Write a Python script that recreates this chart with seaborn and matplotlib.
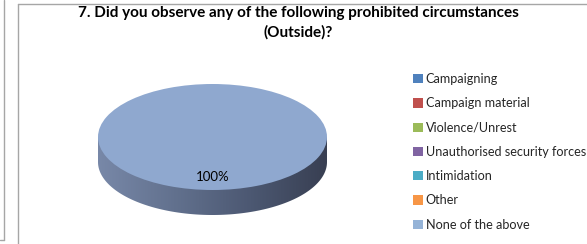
import numpy as np
import matplotlib
matplotlib.use("Agg")
import matplotlib.pyplot as plt
from matplotlib.lines import Line2D
from matplotlib.patches import Polygon
from matplotlib.colors import LinearSegmentedColormap
import seaborn as sns

categories = ["Campaigning", "Campaign material", "Violence/Unrest",
              "Unauthorised security forces", "Intimidation", "Other",
              "None of the above"]
values = [0, 0, 0, 0, 0, 0, 100]
colors = ["#4F81BD", "#C0504D", "#9BBB59", "#8064A2", "#4BACC6", "#F79646", "#95B3D7"]
title = "7. Did you observe any of the following prohibited circumstances\n(Outside)?"

sns.set_theme(style="white")
plt.rcParams['font.family'] = ['Lato', 'DejaVu Sans']

W, H = 587, 244
fig = plt.figure(figsize=(W / 100, H / 100), dpi=100)
fig.patch.set_facecolor("white")

def fx(px):
    return px / W

def fy(py):
    return 1 - py / H

# frame lines
fig.add_artist(Line2D([fx(3.5), fx(3.5)], [fy(0), fy(240)], color="#A6A6A6", lw=1))
fig.add_artist(Line2D([fx(0), fx(3.5)], [fy(240), fy(240)], color="#A6A6A6", lw=1))
fig.add_artist(Line2D([fx(17.5), fx(17.5)], [fy(3.5), fy(244)], color="#A6A6A6", lw=1))
fig.add_artist(Line2D([fx(17.5), fx(587)], [fy(3.5), fy(3.5)], color="#A6A6A6", lw=1))

# pie axes geometry (pixels)
cx, cy = 212.5, 137.0
sx, sy = 114.5, 53.0
xl = (-1.2, 1.2)
yl = (-1.8, 1.2)
left = cx + xl[0] * sx
width = (xl[1] - xl[0]) * sx
top = cy - yl[1] * sy
height = (yl[1] - yl[0]) * sy
ax = fig.add_axes([fx(left), fy(top + height), width / W, height / H])

depth = 25.0 / sy

palette = sns.color_palette(colors)

def pct(p):
    return f"{p:.0f}%" if p > 0.5 else ""

wedges, texts, autotexts = ax.pie(values, colors=palette, startangle=90,
                                  counterclock=False, autopct=pct,
                                  pctdistance=0.755,
                                  wedgeprops=dict(linewidth=0),
                                  textprops=dict(fontsize=9.5, color="black"))
for w in wedges:
    w.set_zorder(3)
for t in autotexts:
    t.set_zorder(5)

# side of 3D pie with horizontal gradient
t = np.linspace(np.pi, 2 * np.pi, 200)
pts = [(-1, 0), (-1, -depth)] + [(np.cos(a), np.sin(a) - depth) for a in t] + [(1, -depth), (1, 0)]
side = Polygon(pts, closed=True, facecolor="none", edgecolor="none")
ax.add_patch(side)
grad = np.linspace(0, 1, 256).reshape(1, -1)
cmap = LinearSegmentedColormap.from_list("side", ["#7888A8", "#62718E", "#4C5872", "#383F52"])
im = ax.imshow(grad, extent=(-1, 1, -1 - depth, 0), cmap=cmap, aspect="auto", zorder=2)
im.set_clip_path(side)

ax.set_aspect("auto")
ax.set_xlim(*xl)
ax.set_ylim(*yl)
ax.axis("off")

leg = fig.legend(wedges, categories, loc="upper left",
                 bbox_to_anchor=(fx(408), fy(68)), frameon=False,
                 fontsize=9.1, handlelength=0.75, handleheight=0.75,
                 handletextpad=0.25, labelspacing=0.97, borderaxespad=0)

# shade top face slightly like Excel's 3D lighting
for w, c in zip(wedges, colors):
    if c == "#95B3D7":
        w.set_facecolor("#8FA8CF")

fig.text(fx(298), fy(6), title, ha="center", va="top", fontsize=11,
         fontweight="bold", linespacing=1.45, color="black")

fig.savefig("out.png", dpi=100, facecolor="white")
